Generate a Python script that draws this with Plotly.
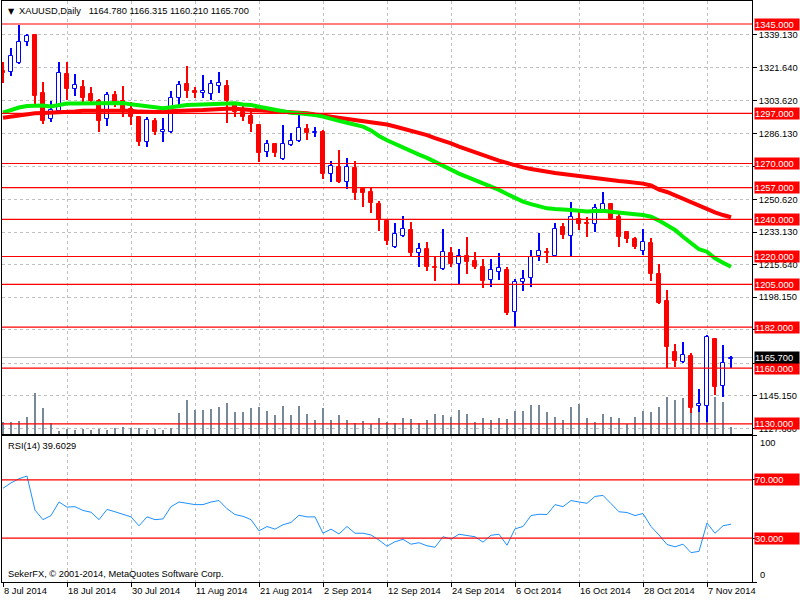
import pandas as pd
import plotly.graph_objects as go

# trading days shown on the chart (8 Jul .. 12 Nov 2014)
dates = [d.strftime("%Y-%m-%d") for d in pd.bdate_range("2014-07-08", "2014-11-12")]

open_ = [1319.7, 1319.0, 1323.9, 1335.2, 1339.1, 1308.1, 1293.8, 1298.4, 1318.1, 1309.9,
         1311.0, 1307.4, 1303.6, 1293.8, 1306.8, 1303.6, 1299.1, 1295.2, 1281.7, 1292.9,
         1287.1, 1287.1, 1305.1, 1312.7, 1309.0, 1307.7, 1307.2, 1311.8, 1311.7, 1302.7,
         1297.9, 1295.5, 1290.7, 1276.3, 1280.3, 1272.3, 1279.8, 1282.3, 1288.6, 1286.2,
         1287.1, 1264.4, 1268.3, 1260.2, 1267.8, 1256.3, 1254.5, 1248.2, 1239.3, 1225.3,
         1231.2, 1234.3, 1221.7, 1224.0, 1214.5, 1213.1, 1221.7, 1215.8, 1220.3, 1217.6,
         1214.5, 1207.4, 1211.8, 1212.8, 1190.0, 1206.1, 1208.3, 1220.3, 1222.6, 1220.4,
         1235.7, 1231.2, 1240.0, 1237.9, 1237.3, 1245.0, 1248.2, 1241.4, 1233.2, 1229.4,
         1223.1, 1227.4, 1210.6, 1196.1, 1168.7, 1163.5, 1166.5, 1139.8, 1139.8, 1175.7,
         1150.6, 1164.78]
high = [1324.6, 1331.9, 1344.5, 1339.6, 1339.6, 1314.0, 1303.6, 1324.6, 1324.6, 1318.1,
        1314.9, 1311.3, 1304.7, 1308.4, 1309.0, 1311.7, 1303.2, 1295.5, 1295.2, 1294.3,
        1294.3, 1309.0, 1314.4, 1322.4, 1311.3, 1317.6, 1314.9, 1319.0, 1314.9, 1303.2,
        1301.8, 1297.9, 1291.2, 1282.6, 1281.0, 1290.7, 1286.6, 1296.1, 1291.2, 1289.5,
        1288.0, 1271.5, 1277.3, 1272.8, 1271.5, 1257.5, 1257.5, 1249.8, 1240.2, 1238.2,
        1241.8, 1238.7, 1227.4, 1228.0, 1219.6, 1234.8, 1225.0, 1224.0, 1230.3, 1222.6,
        1218.7, 1218.7, 1221.7, 1214.2, 1207.9, 1212.8, 1223.5, 1232.5, 1224.4, 1237.9,
        1237.9, 1249.5, 1244.1, 1241.1, 1248.2, 1254.8, 1248.9, 1244.1, 1233.9, 1230.3,
        1234.6, 1229.8, 1216.0, 1202.0, 1173.0, 1174.0, 1168.0, 1148.6, 1177.8, 1176.4,
        1172.4, 1166.315]
low = [1313.3, 1317.2, 1323.5, 1333.3, 1301.5, 1291.2, 1292.5, 1297.0, 1304.1, 1306.3,
       1303.2, 1302.4, 1287.1, 1290.2, 1300.5, 1295.2, 1290.7, 1279.4, 1279.0, 1285.3,
       1281.7, 1286.6, 1301.5, 1305.4, 1305.1, 1305.1, 1304.1, 1307.7, 1291.9, 1295.2,
       1292.9, 1287.1, 1271.0, 1273.7, 1273.7, 1271.9, 1279.4, 1281.7, 1282.6, 1284.4,
       1261.7, 1260.2, 1259.4, 1256.3, 1250.4, 1246.5, 1243.2, 1233.9, 1226.2, 1224.4,
       1230.6, 1220.3, 1214.2, 1212.4, 1207.0, 1212.9, 1214.5, 1204.7, 1210.6, 1213.3,
       1203.2, 1203.5, 1207.4, 1188.6, 1181.9, 1201.6, 1203.8, 1217.8, 1216.4, 1220.3,
       1229.4, 1220.3, 1234.3, 1230.6, 1233.0, 1244.1, 1239.6, 1225.3, 1227.4, 1224.0,
       1220.8, 1207.0, 1194.5, 1159.9, 1160.4, 1162.6, 1136.0, 1136.6, 1131.0, 1145.5,
       1144.6, 1160.21]
close = [1318.7, 1327.8, 1335.2, 1338.5, 1306.5, 1293.0, 1298.8, 1318.5, 1310.1, 1312.0,
         1305.4, 1303.8, 1293.0, 1306.7, 1303.2, 1298.4, 1295.2, 1281.7, 1293.4, 1287.1,
         1288.0, 1305.1, 1312.2, 1309.1, 1308.1, 1309.0, 1312.7, 1313.1, 1303.6, 1297.9,
         1295.2, 1291.1, 1275.8, 1280.3, 1275.8, 1280.3, 1282.1, 1288.9, 1286.6, 1286.9,
         1264.4, 1268.7, 1260.2, 1268.3, 1254.3, 1254.3, 1248.9, 1239.6, 1228.5, 1232.1,
         1234.8, 1222.1, 1223.9, 1214.5, 1214.0, 1222.3, 1216.0, 1220.4, 1217.2, 1214.5,
         1207.0, 1212.8, 1213.7, 1189.8, 1206.1, 1207.7, 1219.9, 1223.1, 1222.1, 1234.6,
         1231.6, 1241.1, 1237.5, 1237.3, 1245.9, 1248.2, 1240.2, 1230.6, 1229.4, 1225.3,
         1227.6, 1210.6, 1194.8, 1171.5, 1164.0, 1167.0, 1138.7, 1140.6, 1176.9, 1150.0,
         1162.6, 1165.70]

ma_fast = [1297.4, 1298.8, 1300.1, 1300.9, 1301.3, 1301.2, 1300.6, 1301.5, 1302.2, 1302.3,
           1302.4, 1302.4, 1302.4, 1302.4, 1302.4, 1302.5, 1301.8, 1301.3, 1300.9, 1300.2,
           1299.7, 1300.2, 1300.9, 1301.5, 1301.6, 1301.8, 1302.1, 1302.4, 1302.7, 1302.4,
           1301.7, 1301.5, 1300.5, 1299.7, 1298.8, 1297.7, 1297.3, 1297.0, 1296.6, 1296.1,
           1295.2, 1294.3, 1292.9, 1291.9, 1291.1, 1289.8, 1287.8, 1284.8, 1282.5, 1280.5,
           1278.3, 1276.5, 1274.8, 1273.0, 1270.8, 1268.7, 1266.5, 1264.6, 1262.8, 1261.1,
           1259.3, 1257.9, 1255.8, 1253.6, 1251.3, 1249.5, 1248.2, 1247.2, 1245.9, 1245.5,
           1245.4, 1245.0, 1244.6, 1244.2, 1244.5, 1244.6, 1244.1, 1243.5, 1243.2, 1242.7,
           1242.3, 1241.4, 1239.3, 1236.9, 1234.3, 1230.6, 1227.1, 1223.9, 1222.6, 1219.0,
           1216.7, 1214.5]
ma_slow = [1294.6, 1295.3, 1296.1, 1296.6, 1297.0, 1297.2, 1297.3, 1297.5, 1297.7, 1298.0,
           1298.4, 1298.4, 1298.4, 1298.5, 1298.6, 1298.8, 1298.3, 1297.9, 1297.7, 1297.7,
           1297.9, 1298.2, 1298.4, 1298.6, 1298.7, 1298.8, 1299.1, 1299.5, 1299.5, 1299.5,
           1299.0, 1298.8, 1298.6, 1298.4, 1298.2, 1297.9, 1297.5, 1297.3, 1297.0, 1296.3,
           1295.7, 1295.2, 1294.6, 1294.2, 1293.8, 1293.0, 1292.2, 1291.8, 1291.0, 1289.9,
           1288.8, 1287.7, 1286.8, 1285.3, 1283.7, 1282.4, 1280.8, 1279.1, 1277.5, 1276.2,
           1274.6, 1273.2, 1271.6, 1270.3, 1268.9, 1267.9, 1267.1, 1266.2, 1265.6, 1264.9,
           1264.4, 1263.8, 1263.3, 1262.7, 1262.2, 1261.7, 1261.1, 1260.6, 1260.2, 1259.8,
           1259.2, 1258.2, 1256.0, 1254.7, 1252.8, 1251.2, 1249.0, 1247.4, 1245.4, 1243.7,
           1242.3, 1241.1]

volume = [12300, 12300, 13300, 17300, 41300, 26300, 11300, 3300, 4700, 4000,
          5000, 4000, 4700, 4000, 6300, 7300, 6300, 6300, 4000, 4700,
          4000, 6300, 21300, 34000, 24000, 24000, 25000, 27300, 31300, 22300,
          22300, 26300, 27300, 23300, 19300, 28300, 19300, 28300, 20300, 14000,
          26300, 14000, 19300, 14000, 11300, 13300, 10300, 16300, 12300, 11300,
          16300, 15300, 11300, 14300, 20300, 19300, 16700, 24000, 20300, 12000,
          16300, 14300, 16300, 15000, 23300, 23300, 29300, 29300, 22300, 17300,
          14300, 27300, 30000, 16300, 12300, 20300, 17300, 16300, 10300, 17300,
          23300, 22300, 27300, 37300, 34300, 35700, 39000, 33300, 36700, 37300,
          32300, 7300]

rsi = [64.2, 67.9, 70.7, 72.6, 49.2, 42.7, 45.5, 54.8, 51.3, 51.6,
       49.0, 47.8, 42.7, 49.7, 48.1, 46.2, 44.6, 38.5, 44.6, 42.7,
       43.2, 51.6, 54.8, 53.9, 53.0, 53.0, 54.8, 55.8, 50.2, 46.2,
       45.0, 42.7, 35.0, 38.0, 36.2, 39.2, 40.8, 45.7, 44.6, 44.6,
       33.4, 36.2, 32.9, 38.0, 33.4, 33.4, 32.2, 28.7, 24.5, 27.6,
       29.2, 25.9, 26.9, 24.8, 23.8, 31.0, 29.4, 32.7, 31.7, 31.0,
       27.3, 32.0, 32.7, 25.2, 36.4, 38.0, 45.5, 46.4, 46.2, 53.0,
       51.6, 55.8, 54.8, 53.9, 58.6, 59.3, 53.7, 48.1, 47.6, 45.5,
       46.9, 38.0, 32.2, 25.7, 24.1, 25.9, 20.1, 21.0, 40.4, 33.4,
       38.5, 39.6029]

levels = [1345, 1297, 1270, 1257, 1240, 1220, 1205, 1182, 1160, 1130]
rsi_levels = [70, 30]
price_ticks = [1339.13, 1321.64, 1303.62, 1286.13, 1268.64, 1250.62, 1233.13,
               1215.64, 1198.15, 1180.66, 1162.64, 1145.15, 1127.66]
date_ticks = ["2014-07-08", "2014-07-18", "2014-07-30", "2014-08-11", "2014-08-21",
              "2014-09-02", "2014-09-12", "2014-09-24", "2014-10-06", "2014-10-16",
              "2014-10-28", "2014-11-07"]
date_text = [f"{pd.Timestamp(d).day} {pd.Timestamp(d):%b %Y}" for d in date_ticks]

BLUE = "#0000ff"
RED = "#ff0000"
GRID = "#c0c0c0"
FONT = "Liberation Sans, Arial, sans-serif"
FS = 9.3

up = [c >= o for o, c in zip(open_, close)]
wick_col = [BLUE if u else RED for u in up]
body_fill = ["white" if u else RED for u in up]

fig = go.Figure()

# tick volume (base axis, drawn behind everything)
fig.add_trace(go.Bar(x=dates, y=volume, width=0.13, marker=dict(color="#778899", line_width=0),
                     xaxis="x", yaxis="y"))

# moving averages
fig.add_trace(go.Scatter(x=dates, y=ma_slow, mode="lines", line=dict(color=RED, width=4),
                         xaxis="x", yaxis="y3"))
fig.add_trace(go.Scatter(x=dates, y=ma_fast, mode="lines", line=dict(color="#00ee00", width=4),
                         xaxis="x", yaxis="y3"))

# candles: wick + body
fig.add_trace(go.Bar(x=dates, y=[h - l for h, l in zip(high, low)], base=low, width=0.13,
                     marker=dict(color=wick_col, line_width=0), xaxis="x", yaxis="y3"))
fig.add_trace(go.Bar(x=dates, y=[max(abs(c - o), 0.3) for o, c in zip(open_, close)],
                     base=[min(o, c) for o, c in zip(open_, close)], width=0.5,
                     marker=dict(color=body_fill, line=dict(color=wick_col, width=1)),
                     xaxis="x", yaxis="y3"))

# RSI
fig.add_trace(go.Scatter(x=dates, y=rsi, mode="lines", line=dict(color="#1e90ff", width=1),
                         xaxis="x2", yaxis="y2"))

shapes = []
for lv in levels:
    shapes.append(dict(type="line", xref="x domain", yref="y3", x0=0, x1=1, y0=lv, y1=lv,
                       line=dict(color=RED, width=1.2), layer="above"))
shapes.append(dict(type="line", xref="x domain", yref="y3", x0=0, x1=1, y0=close[-1], y1=close[-1],
                   line=dict(color=GRID, width=1), layer="below"))
for lv in rsi_levels:
    shapes.append(dict(type="line", xref="x2 domain", yref="y2", x0=0, x1=1, y0=lv, y1=lv,
                       line=dict(color=RED, width=1.2)))

ann = []
box = dict(xref="paper", x=1, xanchor="left", xshift=2, yanchor="middle", width=44, height=11,
           borderpad=0, align="left", showarrow=False, font=dict(color="white", size=FS))
for lv in levels:
    ann.append(dict(box, yref="y3", y=lv, text=f"{lv:.3f}", bgcolor=RED))
ann.append(dict(box, yref="y3", y=close[-1], text=f"{close[-1]:.3f}", bgcolor="black"))
for lv in rsi_levels:
    ann.append(dict(box, yref="y2", y=lv, text=f"{lv:.3f}", bgcolor=RED))
ann.append(dict(xref="paper", x=1, xanchor="left", xshift=6, yref="y2", y=100, yanchor="top",
                text="100", showarrow=False))
ann.append(dict(xref="paper", x=1, xanchor="left", xshift=6, yref="y2", y=0, yanchor="bottom",
                text="0", showarrow=False))
ann.append(dict(xref="paper", yref="paper", x=0, y=1, xanchor="left", yanchor="top", xshift=4,
                yshift=-4, text="▼", showarrow=False, font=dict(size=8, family="DejaVu Sans")))
ann.append(dict(xref="paper", yref="paper", x=0, y=1, xanchor="left", yanchor="top", xshift=15,
                yshift=-3, showarrow=False,
                text=f"XAUUSD,Daily   {open_[-1]:.3f} {high[-1]:.3f} {low[-1]:.3f} {close[-1]:.3f}"))
ann.append(dict(xref="paper", yref="y2", x=0, y=100, xanchor="left", yanchor="top", xshift=4,
                yshift=-3, showarrow=False, text=f"RSI(14) {rsi[-1]:.4f}"))
ann.append(dict(xref="paper", yref="y2", x=0, y=0, xanchor="left", yanchor="bottom", xshift=4,
                yshift=1, showarrow=False, text="SekerFX, © 2001-2014, MetaQuotes Software Corp."))

xcommon = dict(type="category", range=[-0.125, 93.625], tickvals=date_ticks, showgrid=True,
               gridcolor=GRID, griddash="3px,3px", gridwidth=1, showline=True, mirror=True,
               linecolor="black", linewidth=1, zeroline=False, automargin=False)

fig.update_layout(
    width=800, height=600,
    margin=dict(l=2, r=48, t=1, b=18),
    paper_bgcolor="white", plot_bgcolor="white",
    showlegend=False, barmode="overlay", bargap=0,
    font=dict(family=FONT, size=FS, color="black"),
    xaxis=dict(xcommon, anchor="y", domain=[0, 1], showticklabels=False, ticks=""),
    yaxis=dict(domain=[0.2547, 1], anchor="x", range=[0, 433000], visible=False,
               automargin=False),
    yaxis3=dict(overlaying="y", anchor="x", side="right", range=[1124.57, 1357.37],
                tickvals=price_ticks, ticktext=[f"{v:.3f}" for v in price_ticks],
                ticks="outside", ticklen=4, tickcolor="black", showgrid=True, gridcolor=GRID,
                griddash="3px,3px", showline=True, mirror=True, linecolor="black",
                zeroline=False, automargin=False),
    xaxis2=dict(xcommon, anchor="y2", domain=[0, 1], ticktext=date_text, ticks="outside",
                ticklen=4, tickcolor="black", ticklabelposition="outside right", tickangle=0),
    yaxis2=dict(domain=[0, 0.2513], anchor="x2", side="right", range=[0, 100],
                tickvals=[100, 70, 30, 0], showticklabels=False, ticks="outside", ticklen=4,
                tickcolor="black", showgrid=False, showline=True, mirror=True,
                linecolor="black", zeroline=False, automargin=False),
    shapes=shapes,
    annotations=ann,
)

# drop the default page margin so the 800x600 figure sits at the window origin
fig.write_html("out.html", config={"displayModeBar": False},
               post_script="document.body.style.margin='0';")
